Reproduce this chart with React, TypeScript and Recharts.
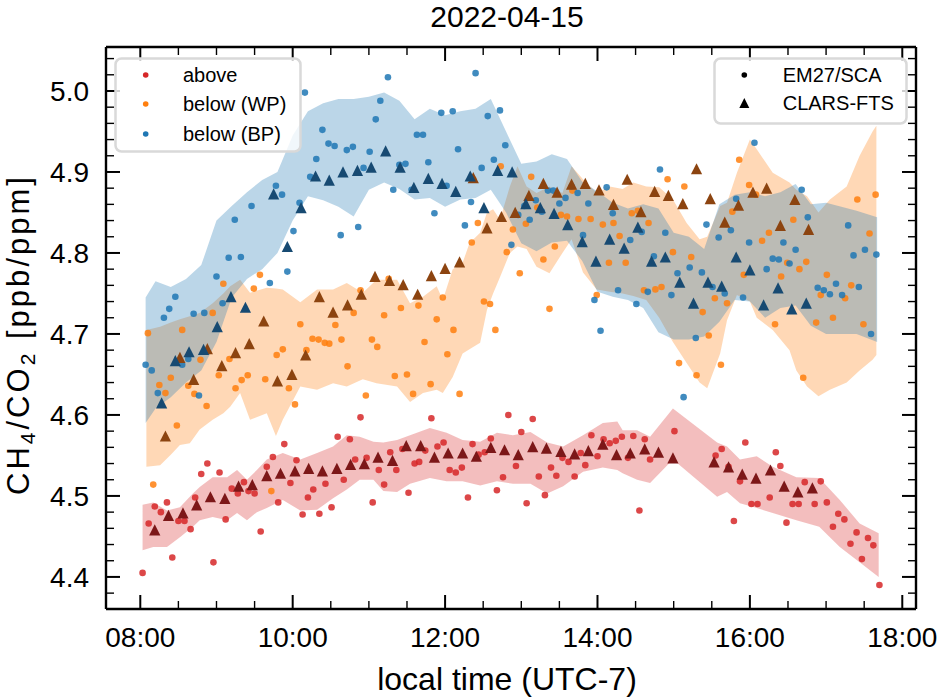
import { Area, ComposedChart, Scatter, XAxis, YAxis } from 'recharts'

// time in hours (local, UTC-7), value CH4/CO2 in ppb/ppm
const xMajorTicks = [8, 10, 12, 14, 16, 18]
const xTickLabels = ['08:00', '10:00', '12:00', '14:00', '16:00', '18:00']
const xMinorTicks = [8.5, 9, 9.5, 10.5, 11, 11.5, 12.5, 13, 13.5, 14.5, 15, 15.5, 16.5, 17, 17.5]
const yMajorTicks = [4.4, 4.5, 4.6, 4.7, 4.8, 4.9, 5.0]
const yTickLabels = ['4.4', '4.5', '4.6', '4.7', '4.8', '4.9', '5.0']
const yMinorTicks = [
  4.36, 4.38, 4.42, 4.44, 4.46, 4.48, 4.52, 4.54, 4.56, 4.58, 4.62, 4.64, 4.66, 4.68,
  4.72, 4.74, 4.76, 4.78, 4.82, 4.84, 4.86, 4.88, 4.92, 4.94, 4.96, 4.98, 5.02, 5.04,
]

// EM27/SCA dots
const aboveEm27 = [
  [8.03, 4.405], [8.11, 4.466], [8.19, 4.487], [8.27, 4.48], [8.35, 4.492], [8.42, 4.424], [8.5, 4.469],
  [8.58, 4.469], [8.66, 4.459], [8.72, 4.498], [8.8, 4.527], [8.88, 4.54], [8.96, 4.418], [9.04, 4.529],
  [9.12, 4.471], [9.2, 4.509], [9.28, 4.503], [9.36, 4.517], [9.42, 4.506], [9.5, 4.503], [9.58, 4.456],
  [9.66, 4.536], [9.74, 4.548], [9.81, 4.492], [9.89, 4.564], [9.97, 4.516], [10.05, 4.544], [10.13, 4.477],
  [10.2, 4.498], [10.27, 4.508], [10.35, 4.478], [10.43, 4.515], [10.51, 4.486], [10.59, 4.573], [10.67, 4.52],
  [10.75, 4.57], [10.82, 4.545], [10.89, 4.597], [10.97, 4.547], [11.05, 4.492], [11.13, 4.532], [11.2, 4.514],
  [11.28, 4.554], [11.36, 4.532], [11.44, 4.558], [11.52, 4.504], [11.6, 4.54], [11.66, 4.542], [11.74, 4.556],
  [11.82, 4.596], [11.9, 4.561], [11.98, 4.566], [12.06, 4.532], [12.14, 4.529], [12.22, 4.535], [12.3, 4.498],
  [12.36, 4.564], [12.44, 4.551], [12.52, 4.554], [12.6, 4.571], [12.68, 4.507], [12.76, 4.523], [12.83, 4.6],
  [12.93, 4.537], [13.0, 4.579], [13.07, 4.491], [13.15, 4.595], [13.23, 4.524], [13.31, 4.501], [13.39, 4.535],
  [13.46, 4.525], [13.54, 4.547], [13.62, 4.542], [13.7, 4.524], [13.78, 4.553], [13.84, 4.538], [13.92, 4.575],
  [14.0, 4.549], [14.08, 4.57], [14.16, 4.565], [14.24, 4.568], [14.32, 4.573], [14.4, 4.547], [14.47, 4.574],
  [14.55, 4.482], [14.62, 4.57], [14.69, 4.545], [15.01, 4.58], [15.55, 4.55], [15.63, 4.558], [15.72, 4.536],
  [15.79, 4.469], [15.87, 4.518], [15.94, 4.566], [16.02, 4.49], [16.1, 4.49], [16.26, 4.498], [16.34, 4.554],
  [16.4, 4.537], [16.48, 4.467], [16.56, 4.49], [16.64, 4.49], [16.72, 4.517], [16.85, 4.49], [16.93, 4.518],
  [17.01, 4.492], [17.09, 4.462], [17.16, 4.478], [17.24, 4.471], [17.32, 4.441], [17.4, 4.455], [17.47, 4.422],
  [17.55, 4.448], [17.62, 4.439], [17.7, 4.39],
]

const wpEm27 = [
  [8.1, 4.701], [8.17, 4.514], [8.25, 4.637], [8.33, 4.627], [8.4, 4.646], [8.48, 4.587], [8.55, 4.705],
  [8.63, 4.636], [8.71, 4.626], [8.79, 4.668], [8.87, 4.611], [8.95, 4.726], [9.03, 4.649], [9.09, 4.762],
  [9.17, 4.669], [9.25, 4.633], [9.33, 4.643], [9.41, 4.649], [9.49, 4.756], [9.57, 4.773], [9.64, 4.644],
  [9.72, 4.506], [9.79, 4.674], [9.87, 4.681], [9.95, 4.633], [10.03, 4.613], [10.1, 4.712], [10.18, 4.68],
  [10.26, 4.694], [10.34, 4.693], [10.42, 4.689], [10.48, 4.688], [10.56, 4.711], [10.64, 4.693], [10.72, 4.66],
  [10.8, 4.726], [10.89, 4.754], [10.96, 4.624], [11.04, 4.693], [11.11, 4.684], [11.2, 4.723], [11.26, 4.768],
  [11.34, 4.648], [11.42, 4.732], [11.5, 4.65], [11.58, 4.626], [11.65, 4.735], [11.73, 4.69], [11.81, 4.638],
  [11.89, 4.718], [11.97, 4.745], [12.03, 4.675], [12.11, 4.705], [12.19, 4.626], [12.35, 4.813], [12.37, 4.891],
  [12.43, 4.837], [12.51, 4.74], [12.59, 4.737], [12.66, 4.705], [12.73, 4.907], [12.81, 4.801], [12.89, 4.829],
  [12.98, 4.775], [13.06, 4.836], [13.13, 4.894], [13.21, 4.856], [13.29, 4.792], [13.37, 4.731], [13.44, 4.808],
  [13.52, 4.847], [13.6, 4.845], [13.67, 4.877], [13.75, 4.842], [13.91, 4.842], [13.99, 4.748], [14.07, 4.835],
  [14.15, 4.788], [14.21, 4.837], [14.29, 4.821], [14.37, 4.788], [14.45, 4.849], [14.53, 4.852], [14.61, 4.754],
  [14.67, 4.837], [14.76, 4.755], [14.84, 4.758], [14.92, 4.891], [14.99, 4.801], [15.07, 4.664], [15.14, 4.882],
  [15.23, 4.795], [15.3, 4.649], [15.38, 4.727], [15.46, 4.698], [15.54, 4.744], [15.62, 4.662], [15.7, 4.738],
  [15.77, 4.851], [15.86, 4.915], [15.92, 4.773], [15.99, 4.884], [16.08, 4.872], [16.16, 4.815], [16.25, 4.825],
  [16.33, 4.712], [16.41, 4.771], [16.49, 4.788], [16.57, 4.841], [16.65, 4.78], [16.7, 4.646], [16.74, 4.789],
  [16.87, 4.714], [16.93, 4.748], [17.01, 4.773], [17.09, 4.72], [17.25, 4.744], [17.33, 4.76], [17.41, 4.866],
  [17.49, 4.712], [17.57, 4.824], [17.65, 4.872],
]

const bpEm27 = [
  [8.07, 4.662], [8.15, 4.655], [8.23, 4.627], [8.31, 4.72], [8.38, 4.731], [8.46, 4.746], [8.55, 4.662],
  [8.63, 4.669], [8.7, 4.725], [8.77, 4.624], [8.84, 4.726], [9.0, 4.771], [9.08, 4.738], [9.16, 4.794],
  [9.24, 4.841], [9.32, 4.795], [9.46, 4.858], [9.7, 4.763], [9.78, 4.883], [9.86, 4.872], [9.93, 4.777],
  [10.01, 4.827], [10.09, 4.862], [10.16, 4.998], [10.23, 4.894], [10.31, 4.916], [10.39, 4.952], [10.47, 4.935],
  [10.55, 4.932], [10.63, 4.822], [10.71, 4.927], [10.79, 4.931], [10.86, 4.832], [10.93, 4.905], [11.01, 4.925],
  [11.09, 4.965], [11.15, 4.988], [11.25, 5.017], [11.32, 4.878], [11.4, 4.909], [11.48, 4.91], [11.56, 4.878],
  [11.63, 4.946], [11.71, 4.946], [11.78, 4.912], [11.86, 4.849], [11.95, 4.973], [12.02, 4.883], [12.1, 4.975],
  [12.17, 4.928], [12.26, 4.834], [12.34, 4.863], [12.4, 5.022], [12.48, 4.905], [12.56, 4.969], [12.64, 4.915],
  [12.72, 4.976], [12.79, 4.933], [12.87, 4.81], [12.96, 4.847], [13.04, 4.858], [13.11, 4.841], [13.19, 4.865],
  [13.27, 4.851], [13.35, 4.877], [13.42, 4.877], [13.5, 4.861], [13.58, 4.868], [13.66, 4.882], [13.74, 4.874],
  [13.81, 4.822], [13.88, 4.861], [13.96, 4.742], [14.04, 4.704], [14.12, 4.881], [14.2, 4.849], [14.27, 4.754],
  [14.43, 4.816], [14.51, 4.737], [14.58, 4.826], [14.66, 4.752], [14.74, 4.796], [14.82, 4.903], [14.89, 4.825],
  [14.97, 4.748], [15.05, 4.775], [15.13, 4.622], [15.21, 4.782], [15.29, 4.695], [15.37, 4.776], [15.43, 4.835],
  [15.51, 4.758], [15.59, 4.819], [15.67, 4.75], [15.75, 4.828], [15.82, 4.867], [15.91, 4.745], [15.99, 4.813],
  [16.06, 4.936], [16.22, 4.78], [16.3, 4.793], [16.38, 4.792], [16.44, 4.813], [16.52, 4.787], [16.6, 4.804],
  [16.68, 4.878], [16.76, 4.844], [16.89, 4.757], [16.97, 4.754], [17.05, 4.749], [17.13, 4.762], [17.21, 4.748],
  [17.29, 4.834], [17.36, 4.797], [17.43, 4.758], [17.51, 4.804], [17.59, 4.7], [17.66, 4.798],
]

// CLARS-FTS triangles
const aboveClars = [
  [8.19, 4.458], [8.37, 4.476], [8.56, 4.479], [8.74, 4.489], [8.92, 4.499], [9.11, 4.497], [9.29, 4.512],
  [9.47, 4.514], [9.66, 4.525], [9.84, 4.528], [10.03, 4.531], [10.21, 4.534], [10.39, 4.531], [10.58, 4.534],
  [10.76, 4.539], [10.94, 4.54], [11.12, 4.548], [11.31, 4.544], [11.49, 4.562], [11.68, 4.562], [11.86, 4.548],
  [12.04, 4.553], [12.23, 4.553], [12.41, 4.549], [12.6, 4.56], [12.78, 4.557], [12.96, 4.551], [13.15, 4.561],
  [13.33, 4.559], [13.52, 4.555], [13.7, 4.552], [13.88, 4.556], [14.07, 4.564], [14.25, 4.551], [14.43, 4.553],
  [14.62, 4.558], [14.8, 4.554], [14.99, 4.547], [15.53, 4.542], [15.72, 4.536], [15.9, 4.527], [16.08, 4.522],
  [16.27, 4.532], [16.45, 4.512], [16.63, 4.505], [16.82, 4.51],
]

const wpClars = [
  [8.33, 4.574], [8.52, 4.671], [8.7, 4.644], [8.88, 4.682], [9.07, 4.661], [9.25, 4.677], [9.43, 4.688],
  [9.62, 4.716], [9.8, 4.642], [9.99, 4.65], [10.17, 4.674], [10.35, 4.746], [10.53, 4.727], [10.72, 4.736],
  [10.9, 4.749], [11.08, 4.771], [11.27, 4.766], [11.45, 4.761], [11.64, 4.749], [11.82, 4.772], [12.0, 4.781],
  [12.19, 4.789], [12.37, 4.893], [12.55, 4.831], [12.74, 4.845], [12.92, 4.85], [13.1, 4.871], [13.29, 4.886],
  [13.47, 4.875], [13.66, 4.885], [13.84, 4.886], [14.02, 4.878], [14.21, 4.86], [14.39, 4.891], [14.57, 4.851],
  [14.75, 4.876], [14.93, 4.871], [15.12, 4.861], [15.3, 4.904], [15.48, 4.867], [15.67, 4.838], [15.85, 4.859],
  [16.04, 4.875], [16.22, 4.88], [16.4, 4.834], [16.59, 4.866], [16.77, 4.829],
]

const bpClars = [
  [8.28, 4.615], [8.46, 4.667], [8.64, 4.678], [8.83, 4.681], [9.01, 4.709], [9.19, 4.746], [9.38, 4.733],
  [9.75, 4.873], [9.93, 4.808], [10.11, 4.856], [10.3, 4.895], [10.48, 4.89], [10.66, 4.9], [10.85, 4.902],
  [11.03, 4.906], [11.22, 4.926], [11.41, 4.906], [11.59, 4.881], [11.78, 4.892], [11.96, 4.886], [12.14, 4.876],
  [12.33, 4.895], [12.51, 4.856], [12.69, 4.902], [12.88, 4.9], [13.06, 4.861], [13.25, 4.856], [13.43, 4.849],
  [13.61, 4.835], [13.8, 4.814], [13.98, 4.79], [14.16, 4.817], [14.35, 4.806], [14.53, 4.832], [14.71, 4.79],
  [14.89, 4.795], [15.08, 4.764], [15.26, 4.738], [15.45, 4.764], [15.63, 4.759], [15.82, 4.795], [16.0, 4.779],
  [16.18, 4.736], [16.37, 4.757], [16.55, 4.731], [16.74, 4.738],
]

// shaded spread: [time, low, high]
const aboveBand = [
  [8.03, 4.433, 4.489], [8.17, 4.437, 4.492], [8.35, 4.437, 4.482], [8.52, 4.449, 4.486], [8.69, 4.462, 4.503],
  [8.78, 4.47, 4.511], [8.95, 4.474, 4.523], [9.14, 4.47, 4.523], [9.27, 4.479, 4.532], [9.4, 4.47, 4.52],
  [9.53, 4.48, 4.532], [9.66, 4.485, 4.545], [9.87, 4.495, 4.553], [10.1, 4.482, 4.545], [10.32, 4.483, 4.553],
  [10.53, 4.497, 4.561], [10.71, 4.508, 4.575], [10.88, 4.52, 4.573], [11.06, 4.52, 4.567], [11.19, 4.506, 4.566],
  [11.37, 4.505, 4.569], [11.54, 4.515, 4.575], [11.8, 4.522, 4.584], [12.02, 4.518, 4.578], [12.23, 4.518, 4.569],
  [12.46, 4.513, 4.567], [12.68, 4.518, 4.578], [12.89, 4.515, 4.575], [13.12, 4.515, 4.579], [13.34, 4.503, 4.566],
  [13.55, 4.512, 4.561], [13.81, 4.53, 4.575], [14.07, 4.535, 4.59], [14.26, 4.532, 4.592], [14.33, 4.528, 4.581],
  [14.52, 4.52, 4.581], [14.69, 4.516, 4.573], [14.99, 4.545, 4.608], [15.57, 4.499, 4.566], [15.7, 4.505, 4.561],
  [15.87, 4.491, 4.545], [16.09, 4.485, 4.549], [16.3, 4.479, 4.536], [16.61, 4.47, 4.523], [16.91, 4.462, 4.522],
  [17.18, 4.437, 4.495], [17.44, 4.418, 4.466], [17.69, 4.4, 4.454],
]

const wpBand = [
  [8.08, 4.536, 4.705], [8.26, 4.538, 4.709], [8.4, 4.551, 4.714], [8.52, 4.563, 4.718], [8.65, 4.565, 4.722],
  [8.78, 4.582, 4.726], [8.95, 4.594, 4.738], [9.09, 4.602, 4.75], [9.18, 4.61, 4.759], [9.31, 4.627, 4.767],
  [9.44, 4.594, 4.751], [9.66, 4.602, 4.757], [9.78, 4.574, 4.756], [9.87, 4.594, 4.755], [10.1, 4.635, 4.739],
  [10.32, 4.631, 4.755], [10.53, 4.639, 4.755], [10.71, 4.635, 4.763], [10.92, 4.644, 4.751], [11.1, 4.639, 4.767],
  [11.37, 4.635, 4.767], [11.54, 4.616, 4.738], [11.71, 4.627, 4.746], [11.89, 4.631, 4.759], [11.97, 4.627, 4.742],
  [12.1, 4.647, 4.78], [12.23, 4.676, 4.788], [12.32, 4.681, 4.812], [12.46, 4.689, 4.825], [12.55, 4.73, 4.85],
  [12.63, 4.75, 4.854], [12.72, 4.77, 4.841], [12.85, 4.8, 4.882], [12.95, 4.808, 4.907], [13.07, 4.805, 4.882],
  [13.2, 4.783, 4.874], [13.37, 4.775, 4.882], [13.54, 4.8, 4.874], [13.66, 4.817, 4.907], [13.81, 4.776, 4.891],
  [13.99, 4.755, 4.874], [14.16, 4.752, 4.882], [14.33, 4.75, 4.879], [14.47, 4.747, 4.887], [14.64, 4.742, 4.882],
  [14.81, 4.72, 4.881], [14.99, 4.69, 4.866], [15.17, 4.664, 4.837], [15.34, 4.64, 4.817], [15.44, 4.633, 4.82],
  [15.61, 4.676, 4.858], [15.7, 4.717, 4.862], [15.83, 4.748, 4.899], [16.0, 4.74, 4.94], [16.09, 4.72, 4.928],
  [16.3, 4.705, 4.899], [16.52, 4.68, 4.887], [16.61, 4.655, 4.878], [16.75, 4.635, 4.87], [16.9, 4.623, 4.85],
  [17.05, 4.631, 4.866], [17.27, 4.64, 4.882], [17.44, 4.655, 4.92], [17.61, 4.668, 4.95], [17.66, 4.674, 4.957],
]

const bpBand = [
  [8.07, 4.59, 4.745], [8.2, 4.608, 4.765], [8.4, 4.622, 4.758], [8.6, 4.64, 4.768], [8.8, 4.655, 4.785],
  [9.0, 4.69, 4.84], [9.2, 4.745, 4.858], [9.4, 4.768, 4.875], [9.6, 4.78, 4.89], [9.8, 4.8, 4.9],
  [10.0, 4.84, 4.945], [10.2, 4.87, 4.975], [10.4, 4.865, 4.985], [10.6, 4.857, 4.99], [10.8, 4.845, 4.99],
  [11.0, 4.878, 4.993], [11.2, 4.887, 4.998], [11.4, 4.879, 4.988], [11.6, 4.866, 4.965], [11.8, 4.868, 4.978],
  [12.0, 4.857, 4.97], [12.2, 4.866, 4.975], [12.4, 4.868, 4.978], [12.6, 4.878, 4.99], [12.8, 4.85, 4.95],
  [13.0, 4.812, 4.91], [13.2, 4.802, 4.913], [13.4, 4.813, 4.922], [13.6, 4.815, 4.916], [13.8, 4.79, 4.888],
  [14.0, 4.752, 4.876], [14.2, 4.746, 4.862], [14.4, 4.742, 4.855], [14.6, 4.732, 4.86], [14.8, 4.702, 4.855],
  [15.0, 4.693, 4.825], [15.2, 4.693, 4.82], [15.4, 4.697, 4.805], [15.6, 4.715, 4.86], [15.8, 4.742, 4.872],
  [16.0, 4.74, 4.875], [16.2, 4.72, 4.87], [16.4, 4.732, 4.875], [16.6, 4.735, 4.885], [16.8, 4.71, 4.86],
  [17.0, 4.7, 4.862], [17.2, 4.7, 4.857], [17.4, 4.7, 4.852], [17.67, 4.69, 4.844],
]

const RED = '#d62728'
const ORANGE = '#ff7f0e'
const BLUE = '#1f77b4'
const RED_DARK = '#7c1718'
const ORANGE_DARK = '#8c4410'
const BLUE_DARK = '#174a72'
const FONT = '"Liberation Sans", Arial, Helvetica, sans-serif'

const X_DOMAIN = [7.55, 18.18]
const Y_DOMAIN = [4.3604, 5.0543]

const toPoints = (rows) => rows.map(([t, v]) => ({ t, v }))
const toBand = (rows) => rows.map(([t, lo, hi]) => ({ t, range: [lo, hi] }))

const isMajor = (list, value) => list.findIndex((m) => Math.abs(m - value) < 1e-6)

const dot = (color) => (props) => (
  <circle cx={props.cx} cy={props.cy} r={3.3} fill={color} fillOpacity={0.85} />
)

const triangle = (color) => (props) => {
  const { cx, cy } = props
  const h = 5.6
  return <polygon points={`${cx},${cy - h} ${cx - h},${cy + h} ${cx + h},${cy + h}`} fill={color} />
}

const makeXTick = (side) => (props) => {
  const { x, y, payload } = props
  const idx = isMajor(xMajorTicks, payload.value)
  const len = idx >= 0 ? 14 : 8
  const dir = side === 'bottom' ? -1 : 1
  return (
    <g>
      <line x1={x} y1={y} x2={x} y2={y + dir * len} stroke="#000" strokeWidth={idx >= 0 ? 2 : 1.4} />
      {side === 'bottom' && idx >= 0 && (
        <text x={x} y={y + 38} textAnchor="middle" fontSize={28} fontFamily={FONT} fill="#000">
          {xTickLabels[idx]}
        </text>
      )}
    </g>
  )
}

const makeYTick = (side) => (props) => {
  const { x, y, payload } = props
  const idx = isMajor(yMajorTicks, payload.value)
  const len = idx >= 0 ? 14 : 8
  const dir = side === 'left' ? 1 : -1
  return (
    <g>
      <line x1={x} y1={y} x2={x + dir * len} y2={y} stroke="#000" strokeWidth={idx >= 0 ? 2 : 1.4} />
      {side === 'left' && idx >= 0 && (
        <text x={x - 17} y={y + 10} textAnchor="end" fontSize={28} fontFamily={FONT} fill="#000">
          {yTickLabels[idx]}
        </text>
      )}
    </g>
  )
}

const allXTicks = [...xMajorTicks, ...xMinorTicks].sort((a, b) => a - b)
const allYTicks = [...yMajorTicks, ...yMinorTicks].sort((a, b) => a - b)
const axisLine = { stroke: '#000', strokeWidth: 2.4 }

const Overlay = () => (
  <svg width={937} height={700} style={{ position: 'absolute', left: 0, top: 0, pointerEvents: 'none' }}>
    <text x={507} y={27} textAnchor="middle" fontSize={30} fontFamily={FONT}>2022-04-15</text>
    <text x={507} y={690} textAnchor="middle" fontSize={32} fontFamily={FONT}>local time (UTC-7)</text>
    <text transform="translate(29,336) rotate(-90)" textAnchor="middle" fontSize={31} fontFamily={FONT}
      textLength={318} lengthAdjust="spacing">
      CH<tspan fontSize={21} dy={6}>4</tspan>
      <tspan dy={-6}>/CO</tspan>
      <tspan fontSize={21} dy={6}>2</tspan>
      <tspan dy={-6}> [ppb/ppm]</tspan>
    </text>

    <rect x={115.5} y={58.5} width={185} height={93} rx={6} fill="#fff" fillOpacity={0.8} stroke="#d9d9d9" strokeWidth={2.5} />
    <circle cx={145.7} cy={75} r={2.8} fill={RED} />
    <circle cx={145.7} cy={104} r={2.8} fill={ORANGE} />
    <circle cx={145.7} cy={134} r={2.8} fill={BLUE} />
    <text x={183} y={82} fontSize={20} fontFamily={FONT}>above</text>
    <text x={183} y={111} fontSize={20} fontFamily={FONT}>below (WP)</text>
    <text x={183} y={141} fontSize={20} fontFamily={FONT}>below (BP)</text>

    <rect x={714.5} y={58.5} width={192} height={65} rx={6} fill="#fff" fillOpacity={0.8} stroke="#d9d9d9" strokeWidth={2.5} />
    <circle cx={744.3} cy={75} r={2.8} fill="#000" />
    <polygon points="744.3,98 739.3,108 749.3,108" fill="#000" />
    <text x={782.7} y={82} fontSize={20} fontFamily={FONT}>EM27/SCA</text>
    <text x={782.7} y={110} fontSize={20} fontFamily={FONT}>CLARS-FTS</text>
  </svg>
)

export default function App() {
  return (
    <div style={{ position: 'absolute', left: 0, top: 0, width: 937, height: 700, background: '#fff', fontFamily: FONT }}>
      <ComposedChart width={937} height={700} margin={{ top: 46, right: 20, bottom: 90, left: 105 }}>
        <XAxis xAxisId="b" type="number" dataKey="t" orientation="bottom" height={1} domain={X_DOMAIN} allowDataOverflow
          ticks={allXTicks} interval={0} tickSize={0} tickMargin={0} tickLine={false} axisLine={axisLine} tick={makeXTick('bottom')} />
        <XAxis xAxisId="t" type="number" dataKey="t" orientation="top" height={1} domain={X_DOMAIN} allowDataOverflow
          ticks={allXTicks} interval={0} tickSize={0} tickMargin={0} tickLine={false} axisLine={axisLine} tick={makeXTick('top')} />
        <YAxis yAxisId="l" type="number" dataKey="v" orientation="left" width={1} domain={Y_DOMAIN} allowDataOverflow
          ticks={allYTicks} interval={0} tickSize={0} tickMargin={0} tickLine={false} axisLine={axisLine} tick={makeYTick('left')} />
        <YAxis yAxisId="r" type="number" dataKey="v" orientation="right" width={1} domain={Y_DOMAIN} allowDataOverflow
          ticks={allYTicks} interval={0} tickSize={0} tickMargin={0} tickLine={false} axisLine={axisLine} tick={makeYTick('right')} />

        <Area xAxisId="b" yAxisId="l" data={toBand(aboveBand)} dataKey="range" type="linear" stroke="none"
          fill={RED} fillOpacity={0.3} isAnimationActive={false} />
        <Area xAxisId="b" yAxisId="l" data={toBand(wpBand)} dataKey="range" type="linear" stroke="none"
          fill={ORANGE} fillOpacity={0.3} isAnimationActive={false} />
        <Area xAxisId="b" yAxisId="l" data={toBand(bpBand)} dataKey="range" type="linear" stroke="none"
          fill={BLUE} fillOpacity={0.3} isAnimationActive={false} />

        <Scatter xAxisId="b" yAxisId="l" data={toPoints(aboveEm27)} dataKey="v" shape={dot(RED)} isAnimationActive={false} />
        <Scatter xAxisId="b" yAxisId="l" data={toPoints(wpEm27)} dataKey="v" shape={dot(ORANGE)} isAnimationActive={false} />
        <Scatter xAxisId="b" yAxisId="l" data={toPoints(bpEm27)} dataKey="v" shape={dot(BLUE)} isAnimationActive={false} />

        <Scatter xAxisId="b" yAxisId="l" data={toPoints(aboveClars)} dataKey="v" shape={triangle(RED_DARK)} isAnimationActive={false} />
        <Scatter xAxisId="b" yAxisId="l" data={toPoints(wpClars)} dataKey="v" shape={triangle(ORANGE_DARK)} isAnimationActive={false} />
        <Scatter xAxisId="b" yAxisId="l" data={toPoints(bpClars)} dataKey="v" shape={triangle(BLUE_DARK)} isAnimationActive={false} />
      </ComposedChart>
      <Overlay />
    </div>
  )
}
